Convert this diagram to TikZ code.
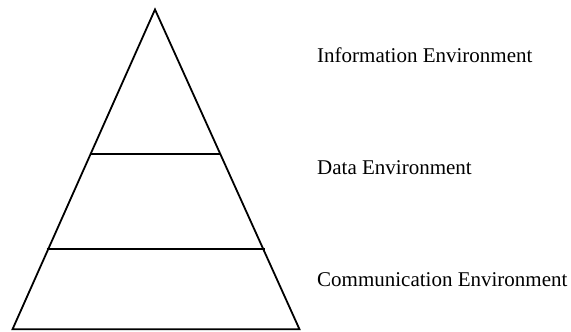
\documentclass[tikz,border=0pt]{standalone}
\usepackage{fontspec}
\setmainfont{Liberation Serif}
\begin{document}
\begin{tikzpicture}[x=1pt,y=-1pt,
  edge/.style={line width=1.8pt, line join=miter},
  lbl/.style={anchor=base west, inner sep=0pt, font=\fontsize{21}{24}\selectfont}]
\useasboundingbox (0,0) rectangle (571,332);
\coordinate (apex) at (155,9.5);
\coordinate (bl) at (12.5,329.3);
\coordinate (br) at (299.5,329.3);
\coordinate (l1a) at (91,154);
\coordinate (l1b) at (220,154);
\coordinate (l2a) at (46.5,249.3);
\coordinate (l2b) at (264.5,249.3);
\draw[edge] (apex) -- (bl) -- (br) -- cycle;
\draw[edge] (l1a) -- (l1b);
\draw[edge] (l2a) -- (l2b);
\node[lbl] (info) at (317,62.3) {Information Environment};
\node[lbl] (data) at (317,174) {Data Environment};
\node[lbl] (comm) at (317,286) {Communication Environment};
\end{tikzpicture}
\end{document}
